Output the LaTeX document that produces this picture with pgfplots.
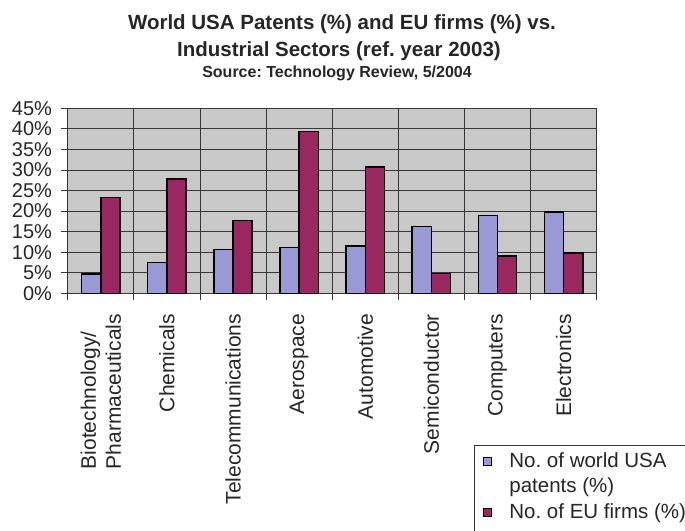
\documentclass[border=0pt]{standalone}
\usepackage{pgfplots}
\pgfplotsset{compat=1.18}
\usepackage{fontspec}
\setmainfont{Liberation Sans}
\frenchspacing
\definecolor{bgray}{RGB}{200,200,200}
\definecolor{patblue}{RGB}{153,153,214}
\definecolor{eured}{RGB}{153,40,96}
\definecolor{gridc}{RGB}{55,55,55}
\begin{document}
\begin{tikzpicture}
\path[use as bounding box] (0,0) rectangle (685bp,531bp);
\node[anchor=base, font=\fontsize{20.5bp}{24bp}\selectfont\bfseries, text=black!85] at (342bp,501.7bp) {World USA Patents (\%) and EU firms (\%) vs.};
\node[anchor=base, font=\fontsize{20.5bp}{24bp}\selectfont\bfseries, text=black!85] at (339bp,474.5bp) {Industrial Sectors (ref. year 2003)};
\node[anchor=base, font=\fontsize{16bp}{19bp}\selectfont\bfseries, text=black!85] at (337bp,453.7bp) {Source: Technology Review, 5/2004};
\begin{axis}[
  at={(67.7bp,237.7bp)}, anchor=south west,
  scale only axis, width=529bp, height=185bp,
  xmin=-0.5, xmax=7.5, ymin=0, ymax=45,
  axis background/.style={fill=bgray},
  axis line style={gridc, line width=0.8bp},
  ybar=0pt, bar width=0.29,
  every axis plot post/.append style={legend image code/.code={\draw[##1, line width=1bp] (0bp,2bp) rectangle (8bp,10bp);}},
  xtick={0,...,7},
  xticklabels={{Biotechnology/\\Pharmaceuticals},Chemicals,Telecommunications,Aerospace,Automotive,Semiconductor,Computers,Electronics},
  major x tick style={draw=none},
  minor xtick={-0.5,0.5,...,7.5},
  xminorgrids, minor x grid style={gridc, line width=0.9bp},
  ytick={0,5,...,45}, ymajorgrids, major y grid style={gridc, line width=0.9bp},
  yticklabel={\pgfmathprintnumber{\tick}\%},
  tick pos=left, tick align=outside,
  major tick length=6.5bp, minor tick length=7bp,
  tick style={gridc, line width=0.9bp},
  xticklabel style={rotate=90, anchor=east, align=left, inner sep=0pt, font=\fontsize{21bp}{25bp}\selectfont, text=black!85},
  xticklabel shift=14bp,
  yticklabel style={anchor=east, inner sep=0pt, font=\fontsize{20bp}{22bp}\selectfont, text=black!85, xshift=-9bp},
  /pgf/number format/assume math mode=true,
  legend cell align=left,
  legend style={at={(0.768,-0.82)}, anchor=north west, draw=gridc, line width=0.8bp, fill=white,
    font=\fontsize{20.5bp}{23bp}\selectfont, text=black!85,
    cells={anchor=base west}, nodes={inner sep=0pt, text height=16bp, text depth=9.5bp},
    inner xsep=9bp, inner ysep=6bp, column sep=17bp, row sep=0pt},
]
\addplot[fill=patblue, draw=black, line width=1.5bp, bar shift=-0.145] coordinates {
(0,4.7) (1,7.5) (2,10.7) (3,11.2) (4,11.5) (5,16.3) (6,18.9) (7,19.8)};
\addlegendentry{No. of world USA}
\addlegendimage{draw=white, fill=white, draw opacity=0, fill opacity=0}
\addlegendentry{patents (\%)}
\addplot[fill=eured, draw=black, line width=1.5bp, bar shift=0.145] coordinates {
(0,23.3) (1,27.8) (2,17.7) (3,39.3) (4,30.7) (5,4.8) (6,9.1) (7,9.8)};
\addlegendentry{No. of EU firms (\%)}
\end{axis}
\end{tikzpicture}
\end{document}
